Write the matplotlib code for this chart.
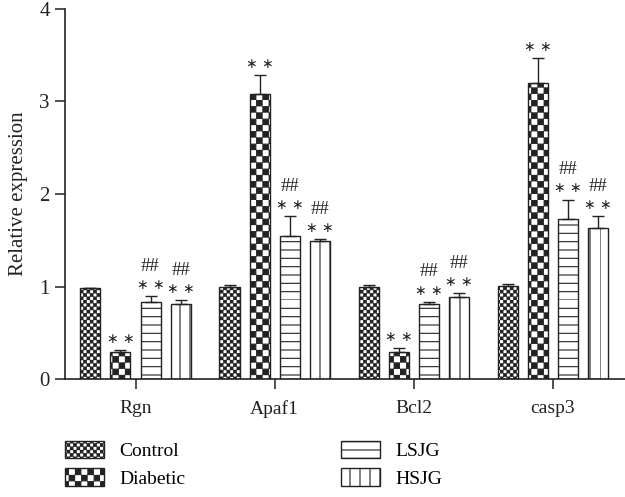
import numpy as np
import matplotlib
matplotlib.use("Agg")
import matplotlib.pyplot as plt
import matplotlib.hatch as mhatch
from matplotlib.path import Path

# ---------------- data ----------------
genes = ["Rgn", "Apaf1", "Bcl2", "casp3"]
groups = ["Control", "Diabetic", "LSJG", "HSJG"]
control = [0.98, 1.00, 1.00, 1.01]
diabetic = [0.29, 3.08, 0.29, 3.20]
lsjg = [0.83, 1.55, 0.81, 1.73]
hsjg = [0.81, 1.49, 0.89, 1.63]
control_err = [0.008, 0.015, 0.02, 0.02]
diabetic_err = [0.025, 0.21, 0.04, 0.27]
lsjg_err = [0.065, 0.21, 0.025, 0.21]
hsjg_err = [0.04, 0.025, 0.035, 0.13]
star_marks = ["", "∗ ∗", "∗ ∗", "∗ ∗"]
hash_marks = ["", "", "##", "##"]
yticks = [0, 1, 2, 3, 4]

# ---------------- custom hatch patterns ----------------
class _Lines(mhatch.HatchPatternBase):
    char = "-"
    per_inch = 12
    horizontal = True

    def __init__(self, hatch, density):
        self.n = self.per_inch if self.char in hatch else 0
        self.num_vertices = self.n * 2

    def set_vertices_and_codes(self, vertices, codes):
        steps = np.arange(self.n) / self.n
        if self.horizontal:
            vertices[0::2, 0] = 0.0
            vertices[0::2, 1] = steps
            vertices[1::2, 0] = 1.0
            vertices[1::2, 1] = steps
        else:
            vertices[0::2, 0] = steps
            vertices[0::2, 1] = 0.0
            vertices[1::2, 0] = steps
            vertices[1::2, 1] = 1.0
        codes[0::2] = Path.MOVETO
        codes[1::2] = Path.LINETO


class _HLines(_Lines):
    char = "-"
    per_inch = 12
    horizontal = True


class _VLines(_Lines):
    char = "|"
    per_inch = 10
    horizontal = False


class _Checker(mhatch.HatchPatternBase):
    char = "."
    per_inch = 30
    shrink = 0.0

    def __init__(self, hatch, density):
        self.n = self.per_inch if self.char in hatch else 0
        self.num_vertices = (self.n * self.n // 2) * 5

    def set_vertices_and_codes(self, vertices, codes):
        n = self.n
        s = 1.0 / n
        d = self.shrink
        k = 0
        for i in range(n):
            for j in range(n):
                if (i + j) % 2 == 0:
                    x0, y0 = i * s + d, j * s + d
                    x1, y1 = (i + 1) * s - d, (j + 1) * s - d
                    vertices[k:k + 5] = [(x0, y0), (x1, y0), (x1, y1), (x0, y1), (x0, y0)]
                    codes[k:k + 5] = [Path.MOVETO, Path.LINETO, Path.LINETO,
                                      Path.LINETO, Path.CLOSEPOLY]
                    k += 5


class _FineChecker(_Checker):
    char = "."
    per_inch = 30
    shrink = 0.004


class _CoarseChecker(_Checker):
    char = "o"
    per_inch = 16
    shrink = 0.004


mhatch._hatch_types = [_HLines, _VLines, _FineChecker, _CoarseChecker]
hatches = [".", "o", "-", "|"]

# ---------------- figure ----------------
plt.rcParams["font.family"] = ["Liberation Serif", "DejaVu Sans"]
plt.rcParams["hatch.linewidth"] = 0.8
plt.rcParams["hatch.color"] = "#1a1a1a"

ink = "#222222"
fig = plt.figure(figsize=(6.25, 4.97), dpi=100)
ax = fig.add_axes([0.104, 0.2374, 0.896, 0.7445])

x = np.arange(len(genes))
width = 0.144
offsets = [-0.324, -0.108, 0.108, 0.324]
series = [control, diabetic, lsjg, hsjg]
errs = [control_err, diabetic_err, lsjg_err, hsjg_err]

handles = []
for k, (vals, err, h, off, name) in enumerate(zip(series, errs, hatches, offsets, groups)):
    pos = x + off
    b = ax.bar(pos, vals, width, facecolor="white", edgecolor=ink,
               linewidth=1.0, hatch=h, label=name, zorder=2)
    handles.append(b)
    ax.errorbar(pos, vals, yerr=[np.zeros(len(vals)), err], fmt="none",
                ecolor=ink, elinewidth=1.0, capsize=4.5, capthick=1.0, zorder=3)
    for xi, v, e in zip(pos, vals, err):
        if star_marks[k]:
            ax.annotate(star_marks[k], xy=(xi, v + e), xytext=(0, 8),
                        textcoords="offset points", ha="center", va="center",
                        fontsize=10, color=ink,
                        family=["DejaVu Sans"])
        if hash_marks[k]:
            ax.annotate(hash_marks[k], xy=(xi, v + e), xytext=(0, 21.5),
                        textcoords="offset points", ha="center", va="center",
                        fontsize=13.5, color=ink)

ax.set_xlim(-0.507, 3.52)
ax.set_ylim(0, 4)
ax.set_yticks(yticks)
ax.set_yticklabels([str(t) for t in yticks], fontsize=15, color=ink)
ax.set_xticks(x)
ax.set_xticklabels(genes, fontsize=14, color=ink)
ax.set_ylabel("Relative expression", fontsize=15, color=ink, labelpad=8)

for s in ["top", "right"]:
    ax.spines[s].set_visible(False)
for s in ["left", "bottom"]:
    ax.spines[s].set_linewidth(1.2)
    ax.spines[s].set_color(ink)
ax.tick_params(axis="both", direction="out", length=7, width=1.1, color=ink)
ax.tick_params(axis="y", pad=4)
ax.tick_params(axis="x", pad=8)

fig.legend(handles=handles, labels=groups, loc="upper left",
           bbox_to_anchor=(65 / 625, 1 - 441 / 497), ncol=2, frameon=False,
           fontsize=14, handlelength=2.0, handleheight=1.0,
           handletextpad=0.8, columnspacing=8.0, labelspacing=0.4,
           borderpad=0, borderaxespad=0)

fig.savefig("out.png", dpi=100)
